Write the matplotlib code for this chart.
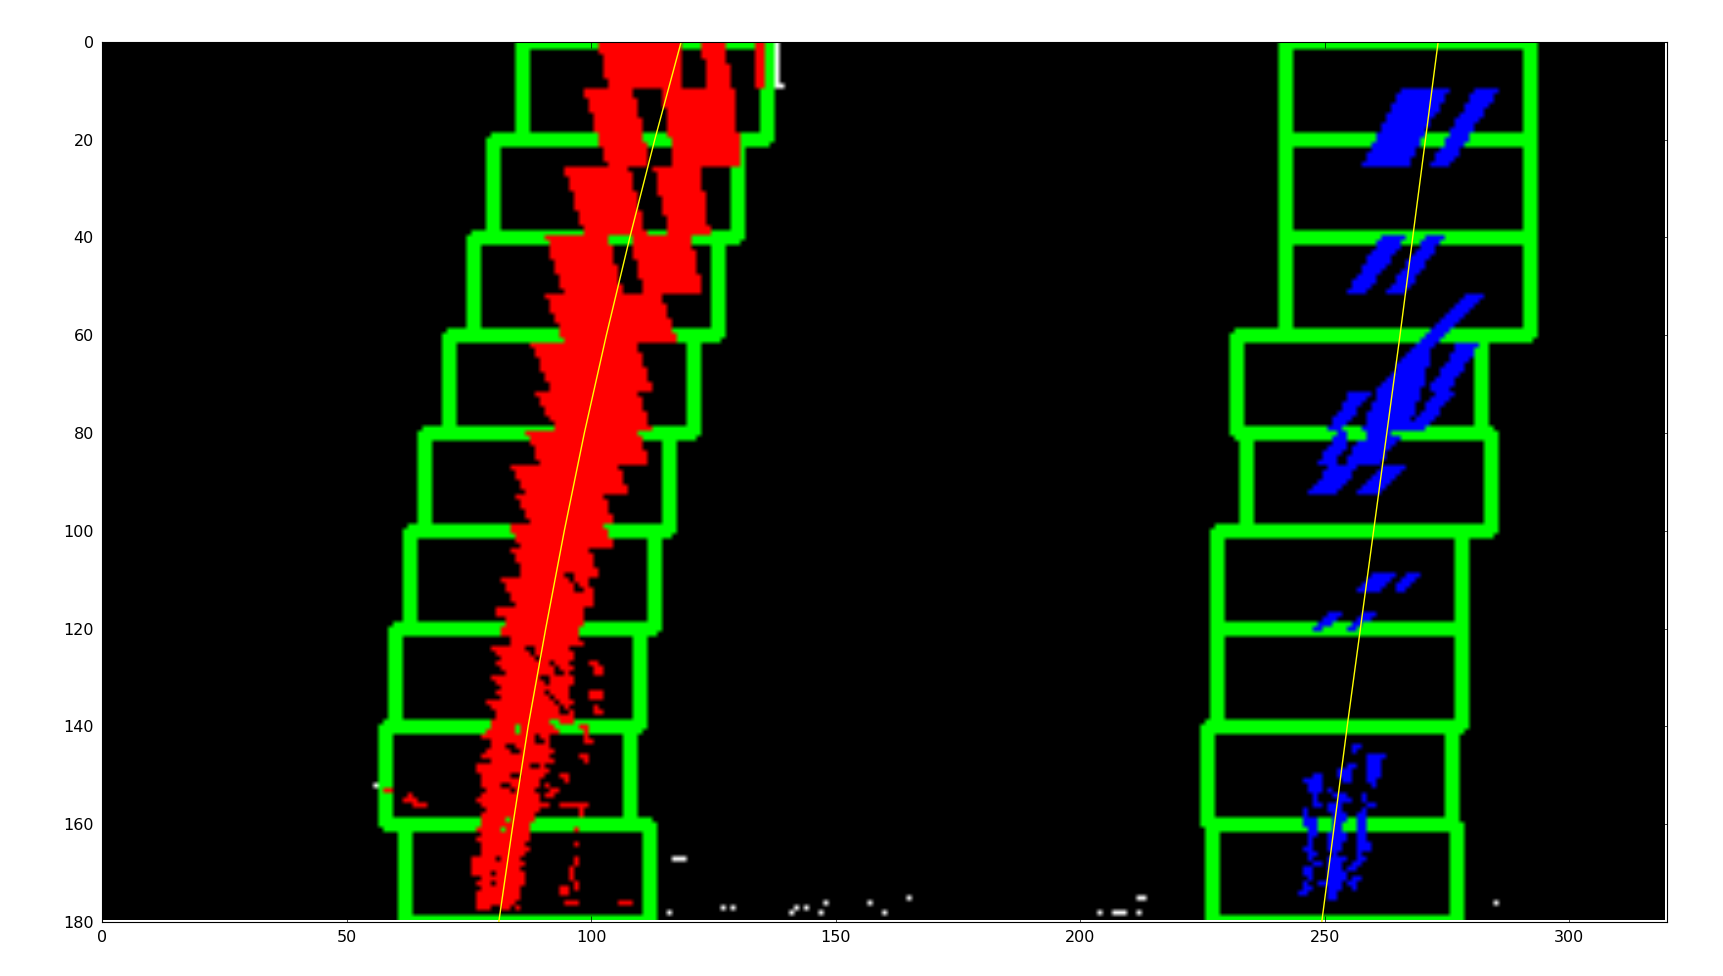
import math
import numpy as np
import matplotlib
matplotlib.use("Agg")
import matplotlib.pyplot as plt

W, H = 320, 180
x_ticks = [0, 50, 100, 150, 200, 250, 300]
y_ticks = [0, 20, 40, 60, 80, 100, 120, 140, 160, 180]

win_top = [0, 20, 40, 60, 80, 100, 120, 140, 160]
win_bot = [20, 40, 60, 80, 100, 120, 140, 160, 180]
left_win_x0 = [86, 80, 76, 71, 66, 63, 60, 58, 62]
right_win_x0 = [242, 242, 242, 232, 234, 228, 228, 226, 227]
win_width = 50

fit_y = [0, 20, 40, 60, 80, 100, 120, 140, 160, 180]
left_fit_x = [118.4, 113.0, 107.9, 103.1, 98.6, 94.5, 90.7, 87.1, 84.0, 81.1]
right_fit_x = [273.2, 270.6, 268.0, 265.4, 262.7, 260.0, 257.3, 254.6, 252.0, 249.4]

# y0, y1, left/right edge at y0, left/right edge at y1
red_chunks = [
    (0, 9.5, 101.4, 118, 103.5, 118.5), (0, 9.5, 122.6, 127.3, 123.6, 128.7),
    (0, 9.5, 133.5, 135.5, 133.5, 135.5), (9.5, 25.2, 98.4, 108.6, 103.2, 112),
    (9.5, 25.2, 114.4, 129.4, 116.8, 130.4), (25.2, 39.2, 94.4, 107.6, 98.4, 111.3),
    (25.2, 39.2, 112.7, 122.2, 115.8, 124.3), (39.2, 51.4, 90.5, 103.5, 94.3, 106.5),
    (39.2, 51.4, 107.9, 120.5, 110.6, 122.6), (51.4, 61, 90.5, 114.4, 94.3, 117.5),
    (61, 71.5, 87.5, 109.3, 91.6, 112.7), (71.5, 79, 88.5, 109.6, 92.6, 112.3),
    (79, 86.5, 86.6, 109.6, 89.5, 111.7), (86.5, 92, 83.4, 105.5, 86.5, 107.6),
    (92, 98.5, 84.4, 102.5, 87.5, 104.5), (98.5, 103, 82.7, 102.5, 85.4, 104.5),
    (103, 109, 83.4, 99.7, 85.8, 101.4), (109, 115.5, 81.3, 99.7, 84.4, 100.4),
    (126.5, 129.5, 99.7, 101.5, 100.7, 102.5), (135.2, 137.6, 99.7, 101, 101, 102.5),
    (139.7, 143.4, 97.7, 99, 99, 100.4), (145.8, 147.5, 97.7, 99, 99, 100.4),
    (149, 151.3, 93.6, 94.8, 94.4, 95.4), (152.6, 154.4, 92, 93.6, 90.6, 92.2),
    (151.6, 152.3, 90.6, 91.6, 90.6, 91.6), (156, 158.5, 97.7, 98.5, 97.7, 98.5),
    (166, 168, 96.4, 97.7, 96, 97), (168, 171.5, 95.6, 96.7, 95.6, 96.7),
    (171.5, 173.5, 96, 97, 96.8, 97.7),
]
red_rows_y = list(range(116, 178))
red_rows_left = [80.5, 80.5, 82.4, 82.4, 81.7, 81.7, 83.4, 83.1, 79.7, 80.4, 81.4, 80.4, 81.4, 82.4, 79.7,
                 80.7, 81.7, 80.7, 81.0, 78.7, 79.7, 80.4, 80.0, 79.0, 79.7, 78.7, 77.6, 79.0, 79.0, 78.3,
                 77.6, 79.0, 76.6, 76.6, 77.6, 77.6, 77.6, 78.3, 77.3, 76.3, 77.3, 78.0, 77.6, 77.6, 77.6,
                 76.6, 77.3, 76.3, 77.3, 77.6, 77.3, 75.2, 75.9, 75.9, 75.2, 77.0, 76.6, 77.0, 76.6, 76.6,
                 76.6, 76.6]
red_rows_right = [98.4, 98.4, 98.4, 98.4, 97.7, 97.0, 97.0, 98.4, 95.4, 96.4, 96.0, 95.4, 96.0, 95.7, 96.4,
                  96.0, 95.7, 95.4, 95.7, 96.0, 95.7, 96.0, 96.4, 96.7, 93.6, 93.0, 91.3, 91.6, 91.6, 92.6,
                  91.6, 92.3, 90.9, 91.6, 90.2, 89.2, 89.9, 88.5, 89.2, 89.6, 91.6, 89.6, 88.5, 88.5, 87.5,
                  87.5, 87.2, 87.5, 86.5, 87.5, 86.2, 85.8, 86.5, 85.8, 86.2, 86.5, 86.2, 85.5, 85.5, 85.5,
                  84.8, 79.3]
red_bits = [(132.8, 134.6, 99.7, 102.5), (155, 156, 93.6, 99.4), (160.6, 161.4, 96.4, 97.1),
            (163.6, 164.4, 96.6, 97.4), (172.8, 174.8, 93.7, 95.4), (175.7, 176.4, 94.7, 97.4),
            (175.7, 176.4, 105.8, 108.5), (152.8, 153.5, 57.5, 59.5), (176.5, 177.5, 81.4, 83.8),
            (176.5, 177.5, 84.4, 85.4), (153.6, 154.4, 62.8, 63.8), (154.6, 155.4, 61.8, 64.8),
            (155.6, 156.4, 63.6, 66.3)]
red_holes = [
    (123.7, 126.4, 86.5, 88, 88.3, 89.5), (126, 129.1, 90.3, 91.6, 93, 94.3),
    (129.5, 131.8, 89.6, 91, 90.8, 92), (132.8, 137.3, 90.6, 91.8, 94.2, 95.4),
    (108.7, 112.5, 94.6, 95.8, 97.2, 98.4), (139.7, 141.7, 83.8, 85, 85.3, 86.5),
    (138.7, 141.7, 91.6, 92.9, 94.2, 95.4), (139.3, 141.7, 95.7, 96.6, 97.2, 98),
    (143.8, 145.5, 82.4, 84.2, 84.2, 85.8), (141.7, 143.4, 87.9, 89.4, 88.8, 90.2),
    (147.2, 148, 87.5, 89.5, 87.5, 89.5), (149, 150, 82.7, 84.5, 83.5, 85),
    (151.2, 152, 81.4, 83.4, 81.4, 83.4), (152.7, 153.3, 83.4, 84.4, 83.4, 84.4),
    (158.6, 159.4, 82.6, 83.5, 82.6, 83.5), (160.8, 161.6, 81.4, 82.3, 81.4, 82.3),
    (166.6, 167.4, 80.6, 81.5, 80.6, 81.5), (169, 170.4, 80.6, 81.5, 79.6, 80.5),
    (171.6, 172.4, 79.6, 80.5, 79.6, 80.5),
]

blue_chunks = [
    (9.3, 25.4, 265.7, 275.6, 257.6, 266.8), (9.3, 25.4, 280.7, 285.8, 271.5, 275.6),
    (39.5, 51.4, 261.6, 266.8, 254.5, 258.6), (39.5, 51.4, 270.8, 274.6, 262.5, 266.4),
    (51.4, 62, 278.7, 282.8, 268.1, 272.2), (62, 71.5, 268.1, 272.2, 260.6, 269.8),
    (71.5, 79, 260.6, 269.8, 257.6, 266.8), (79, 86.4, 257.6, 266.8, 253.8, 261),
    (86.4, 92.5, 251.1, 257.2, 246.6, 252.4), (61.5, 71.5, 277.3, 281.8, 270.8, 275),
    (71.5, 79, 272.9, 276.6, 266.8, 270.8), (71.5, 79, 255.2, 259.6, 250.7, 253.8),
    (79, 86, 253.1, 256.5, 248.7, 252.4), (86.4, 92.5, 262, 266.8, 255.5, 261),
    (108.5, 112.5, 260.6, 264.7, 255.5, 260.6), (108.5, 112.5, 266.8, 269.8, 263.7, 265.7),
    (116.9, 120.2, 250.7, 253.8, 247.7, 249.7), (116.9, 120.2, 257.2, 260.6, 254.5, 256.5),
]
blue_holes = [(79, 81, 254.5, 257.5, 254.5, 258.5), (79, 80, 263.7, 266.8, 263.7, 266.8)]
blue_rows = [
    (149, 150, 247, 249.7), (150, 151, 245.6, 249.7), (151, 153, 246.5, 249.9), (153, 155, 247, 248.7),
    (155, 156, 247.8, 249), (156, 158, 245.6, 246.9), (158, 160, 245.8, 248.4), (160, 162, 246.5, 248),
    (162, 164, 246.2, 247.5), (164, 165, 245.6, 247), (165, 166, 246, 248), (166, 167, 246.3, 247.2),
    (167, 168, 247, 249), (168, 170, 245.6, 247.6), (170, 171, 246, 247), (171, 172, 245.6, 246.5),
    (172, 173, 245.3, 247), (173, 174, 244.9, 246.5),
    (143.5, 144.5, 255.5, 257.5), (144.5, 145, 255, 256), (147, 148, 254.5, 256), (148, 150, 252.5, 255.5),
    (150, 151.5, 253, 255), (152, 153, 250.5, 251.5), (153, 154, 251.5, 254), (154, 155.5, 252.5, 255.5),
    (155.5, 157, 250, 253), (157, 159, 251, 254), (159, 161, 251.5, 253.5), (161, 163, 250.5, 254),
    (163, 165, 250, 253), (165, 166, 251, 252.5), (166, 167, 250.5, 254), (167, 169, 250.5, 253.5),
    (169, 171, 250, 254), (171, 172, 248.6, 253), (172, 173, 250, 253), (173, 175, 250.5, 252.5),
    (145.5, 146.5, 258.5, 262.5), (146.5, 148, 258.5, 261), (148, 150, 258, 261.5), (150, 151.5, 258, 260.5),
    (151.5, 152.5, 259, 260.5), (153, 155, 257.5, 258.5), (155, 156, 258, 260), (156, 157, 257.5, 258.5),
    (157, 159, 256.5, 258.5), (159, 161, 256.8, 258.5), (161, 163, 256.8, 258), (163, 165, 256, 259),
    (165, 166, 256, 257), (166, 167, 256.5, 258), (167, 168, 255.5, 257), (168, 169, 254.5, 256.5),
    (170, 171, 255.5, 257.5), (171, 172, 254.5, 256.5), (172, 173, 255, 256.5),
]
white_x = [116, 127, 129, 141, 142, 144, 147, 148, 157, 160, 165, 204, 207, 208, 209, 212, 212, 213, 285,
           117, 118, 119, 56, 139]
white_y = [178, 177, 177, 178, 177, 177, 178, 176, 176, 178, 175, 178, 178, 178, 178, 178, 175, 175, 176,
           167, 167, 167, 152, 9]
white_col_x = 138
white_col_y = [0, 1, 2, 3, 4, 5, 6, 7, 8, 9]


def span(m, y0, y1, xl0, xr0, xl1, xr1):
    # an edge read at v falls on the first pixel whose lower border lies past v
    r0 = math.floor(y0 + 1) if y0 > 0 else 0
    r1 = max(math.floor(y1 + 1), r0 + 1)
    for r in range(r0, min(r1, H)):
        t = (r - y0) / max(y1 - y0, 1e-6)
        t = min(max(t, 0), 1)
        a = xl0 + (xl1 - xl0) * t
        b = xr0 + (xr1 - xr0) * t
        c0 = math.floor(a + 1)
        m[r, c0:max(math.floor(b + 1), c0 + 1)] = True


def window(m, x0, x1, y0, y1):
    for y in (y0, y1):
        for d, e in ((-1, 0), (0, 1), (1, 0)):
            r = y + d
            if 0 <= r < H:
                m[r, x0 - e:x1 + e + 1] = True
    for x in (x0, x1):
        for d, e in ((-1, 0), (0, 1), (1, 0)):
            c = x + d
            m[max(y0 - e, 0):min(y1 + e + 1, H), c] = True


green = np.zeros((H, W), bool)
red = np.zeros((H, W), bool)
blue = np.zeros((H, W), bool)
white = np.zeros((H, W), bool)
for i in range(len(win_top)):
    window(green, left_win_x0[i], left_win_x0[i] + win_width, win_top[i], win_bot[i])
    window(green, right_win_x0[i], right_win_x0[i] + win_width, win_top[i], win_bot[i])
for c in red_chunks:
    span(red, *c)
for y, a, b in zip(red_rows_y, red_rows_left, red_rows_right):
    span(red, y - 0.5, y + 0.4, a, b, a, b)
for y0, y1, a, b in red_bits:
    span(red, y0, y1, a, b, a, b)
for c in red_holes:
    hole = np.zeros((H, W), bool)
    span(hole, *c)
    red &= ~hole
for c in blue_chunks:
    span(blue, *c)
for y0, y1, a, b in blue_rows:
    span(blue, y0, y1, a, b, a, b)
for c in blue_holes:
    hole = np.zeros((H, W), bool)
    span(hole, *c)
    blue &= ~hole
white[white_y, white_x] = True
white[white_col_y, white_col_x] = True

img = np.zeros((H, W, 3))
img[white] = (1, 1, 1)
img[green] = (0, 1, 0)
img[red] = (1, 0, 0)
img[blue] = (0, 0, 1)

fig = plt.figure(figsize=(17.23, 9.76), dpi=100)
ax = fig.add_axes([102.2 / 1723, 1 - 922 / 976, (1667 - 102.2) / 1723, (922 - 41.8) / 976])
ax.imshow(img, interpolation="bilinear", aspect="auto")
ax.plot(left_fit_x, fit_y, color="yellow", lw=1)
ax.plot(right_fit_x, fit_y, color="yellow", lw=1)
ax.set_xlim(0, W)
ax.set_ylim(H, 0)
ax.set_xticks(x_ticks)
ax.set_yticks(y_ticks)
ax.tick_params(direction="in", top=True, right=True, length=4, width=0.5, labelsize=11.5, pad=6)
for s in ax.spines.values():
    s.set_linewidth(0.8)
fig.savefig("out.png", dpi=100)
